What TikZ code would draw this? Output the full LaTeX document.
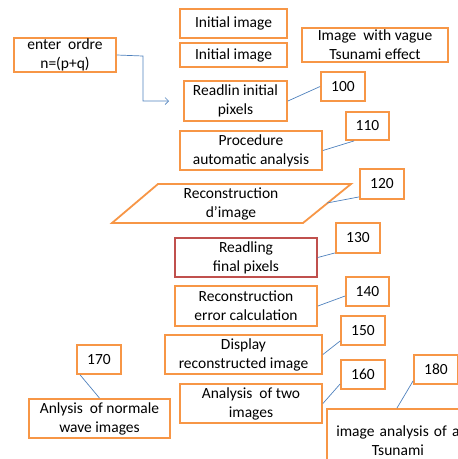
\documentclass[tikz,border=0pt]{standalone}
\usepackage{fontspec}
\setmainfont{Carlito}
\usetikzlibrary{arrows.meta,calc}
\definecolor{boxorange}{HTML}{F79646}
\definecolor{boxred}{HTML}{C0504D}
\definecolor{linkblue}{HTML}{4F81BD}
\begin{document}
\begin{tikzpicture}[x=1pt,y=-1pt,
  bx/.style={draw=boxorange, line width=1.8pt, fill=white, align=center, inner sep=0pt,
    font=\fontsize{15.5}{19}\selectfont, text=black},
  numbox/.style={bx, minimum width=44pt, minimum height=29pt},
  link/.style={draw=linkblue, line width=0.7pt}
]
\useasboundingbox (0,0) rectangle (458,459);
\clip (0,0) rectangle (458,459);

% main boxes
\node[bx, minimum width=107pt, minimum height=29pt] (init1) at (233.5,23.5) {Initial image};
\node[bx, minimum width=107pt, minimum height=24pt] (init2) at (233.5,55) {Initial image};
\node[bx, minimum width=146pt, minimum height=34pt] (vague) at (375,45) {Image\ \ with vague\\Tsunami effect};
\node[bx, minimum width=102pt, minimum height=34pt] (enter) at (65,55) {enter\ \ ordre\\n=(p+q)};
\node[bx, minimum width=103pt, minimum height=40pt] (read) at (235.5,101) {Readlin initial\\pixels};
\node[bx, minimum width=142pt, minimum height=39pt] (proc) at (251,150.5) {Procedure\\automatic analysis};
\draw[draw=boxorange, line width=1.8pt, fill=white, line join=miter] (112,223) -- (158,184) -- (351,184) -- (303,223) -- cycle;
\node[bx, draw=none, fill=none] (recon) at (231,203.5) {Reconstruction\\d’image};
\coordinate (reconR) at (327,203);
\node[bx, draw=boxred, line width=1.5pt, minimum width=142pt, minimum height=39pt] (final) at (246,257.5) {Readling\\final pixels};
\node[bx, minimum width=142pt, minimum height=40pt] (err) at (246,306) {Reconstruction\\error calculation};
\node[bx, minimum width=157pt, minimum height=39pt] (disp) at (243.5,354.5) {Display\\reconstructed image};
\node[bx, minimum width=142pt, minimum height=39pt] (two) at (251,403.5) {Analysis\ \ of two\\images};
\node[bx, minimum width=141pt, minimum height=39pt] (norm) at (99.5,418.5) {Anlysis\ \ of normale\\wave images};
\node[bx, minimum width=142pt, minimum height=62pt, anchor=north west, text width=142pt] (tsu) at (326,408) {\\[-7pt]image analysis of a\\Tsunami\\[10pt]};

% number boxes
\node[numbox] (n100) at (343,86.5) {100};
\node[numbox, minimum width=43pt, minimum height=28pt] (n110) at (367.5,126) {110};
\node[numbox, minimum height=30pt] (n120) at (382,184) {120};
\node[numbox, minimum height=30pt] (n130) at (358,238) {130};
\node[numbox, minimum width=43pt] (n140) at (367.5,291.5) {140};
\node[numbox] (n150) at (363,330.5) {150};
\node[numbox] (n160) at (363,374.5) {160};
\node[numbox] (n170) at (99,359.5) {170};
\node[numbox] (n180) at (436,369.5) {180};

% connectors
\coordinate (arrEnd) at (169,101);
\draw[link, -{Straight Barb[length=3.5pt,width=7pt]}] (enter.east) -- (143,56) |- (arrEnd);
\draw[link] (read.east) -- (n100.west);
\draw[link] (proc.east) -- ($(n110.south west)+(9,0)$);
\draw[link] (reconR) -- ([yshift=3pt]n120.south west);
\draw[link] (final.east) -- ([yshift=1pt]n130.south west);
\draw[link] (err.east) -- ([yshift=-4.5pt]n140.west);
\draw[link] (disp.east) -- ([yshift=-10.5pt]n150.west);
\draw[link] (two.east) -- ([yshift=-9.5pt]n160.west);
\draw[link] ($(n170.south west)+(4,0)$) -- (norm.north);
\draw[link] ([yshift=4pt]n180.south west) -- ($(tsu.north west)+(71,0)$);
\end{tikzpicture}
\end{document}
